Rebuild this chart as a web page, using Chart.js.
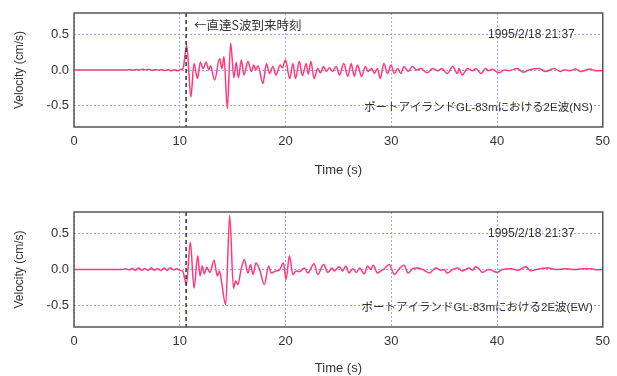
<!DOCTYPE html>
<html>
<head>
<meta charset="utf-8">
<script src="https://cdn.jsdelivr.net/npm/chart.js@4.4.1/dist/chart.umd.min.js"></script>
<style>
  html, body { margin: 0; padding: 0; background: #fff; }
  canvas { display: block; }
</style>
</head>
<body>
<canvas id="nsChart" width="617" height="188"></canvas>
<canvas id="ewChart" width="617" height="188"></canvas>
<script>
// 速度波形 (NS)
const nsTime = [0, 5.0, 5.3, 5.6, 5.9, 6.2, 6.5, 6.8, 7.1, 7.4, 7.7, 8.0, 8.3, 8.6, 8.9, 9.2, 9.5, 9.8, 10.1, 10.3,
  10.66, 11.05, 11.35, 11.67, 11.95, 12.2, 12.5, 12.75, 12.9, 13.3, 13.77, 13.99, 14.18, 14.5, 14.81, 15.12, 15.33, 15.55,
  15.82, 16.07, 16.45, 16.77, 17.0, 17.2, 17.4, 17.86, 18.2, 18.5, 18.8, 19.1, 19.5, 19.7, 20.0, 20.4, 20.7, 20.95,
  21.3, 21.6, 21.95, 22.15, 22.4, 22.7, 23.05, 23.3, 23.6, 23.85, 24.15, 24.45, 24.8, 25.1, 25.5, 25.9, 26.2, 26.5,
  26.8, 27.2, 27.55, 27.8, 28.15, 28.4, 28.7, 28.96, 29.3, 29.65, 29.97, 30.3, 30.6, 30.9, 31.2, 31.6, 32.0, 32.4,
  32.8, 33.4, 33.9, 34.4, 34.8, 35.3, 35.8, 36.25, 36.4, 36.7, 37.2, 37.7, 38.0, 38.5, 38.9, 39.2, 39.55, 40.2,
  40.65, 41.1, 41.9, 42.5, 43.0, 43.96, 44.6, 45.4, 46.0, 46.3, 46.9, 47.4, 47.9, 48.8, 49.3, 50];
const nsVel = [0, 0, 0.008, -0.004, 0.008, 0, 0.012, 0, 0.01, -0.006, 0.008, -0.004, 0.006, -0.008, 0.004, -0.01, 0.004, -0.012, 0.008, 0.02,
  0.35, -0.38, 0.09, -0.12, 0.11, 0.02, 0.11, 0.0, 0.06, -0.14, 0.16, 0.02, 0.19, -0.54, 0.38, -0.11, 0.11, -0.11,
  0.14, -0.07, 0.12, -0.02, 0.07, 0.0, 0.06, -0.19, 0.09, -0.05, 0.05, -0.07, 0.07, 0.03, 0.14, -0.12, 0.09, -0.12,
  0.12, -0.08, 0.09, -0.06, 0.12, -0.12, 0.02, -0.04, 0.05, -0.02, 0.03, -0.02, 0.05, -0.07, 0.09, -0.09, 0.09, -0.09,
  0.07, -0.09, 0.05, -0.02, 0.02, -0.05, 0.02, -0.12, 0.09, -0.05, 0.07, -0.05, 0.02, -0.05, 0.05, -0.02, 0.05, 0.0,
  0.02, -0.04, 0.02, -0.01, 0.02, -0.05, 0.05, -0.05, 0.02, -0.07, 0.02, -0.01, 0.02, -0.05, 0.02, -0.01, 0.01, -0.04,
  0.0, -0.01, 0.02, -0.03, 0.0, 0.02, -0.02, 0.02, -0.02, 0.0, -0.01, 0.015, -0.02, 0.015, -0.01, -0.01];

// 速度波形 (EW)
const ewTime = [0, 4.6, 4.9, 5.2, 5.5, 5.8, 6.1, 6.4, 6.7, 7.0, 7.3, 7.6, 7.9, 8.2, 8.5, 8.8, 9.1, 9.4, 9.7, 10.0, 10.3,
  10.63, 11.0, 11.35, 11.7, 11.92, 12.12, 12.32, 12.55, 12.85, 13.25, 13.55, 13.75, 13.9, 14.34, 14.72, 15.08, 15.28, 15.5,
  15.8, 16.1, 16.45, 16.7, 16.93, 17.2, 17.55, 18.0, 18.4, 18.65, 19.1, 19.4, 19.8, 20.05, 20.37, 20.7, 21.0, 21.3,
  21.8, 22.1, 22.7, 23.05, 23.6, 24.0, 24.4, 24.6, 25.1, 25.4, 25.7, 26.0, 26.35, 26.7, 27.0, 27.45, 27.75, 28.05,
  28.3, 28.7, 29.0, 29.35, 29.8, 30.3, 30.75, 31.2, 31.6, 32.0, 32.5, 33.1, 33.6, 34.2, 34.7, 35.0, 35.3, 35.8,
  36.3, 36.7, 37.35, 37.7, 37.95, 38.3, 38.6, 39.2, 40.0, 40.5, 41.3, 42.0, 42.7, 43.2, 43.7, 44.9, 45.5, 46.5,
  47.4, 48.0, 48.9, 49.5, 50];
const ewVel = [0, 0, 0.01, -0.005, 0.015, -0.01, 0.02, -0.01, 0.015, -0.01, 0.02, -0.01, 0.015, -0.015, 0.02, -0.01, 0.025, -0.005, 0.01, -0.01, -0.03,
  -0.21, 0.38, -0.26, 0.19, -0.09, 0.05, -0.06, 0.03, -0.04, 0.13, -0.09, -0.02, -0.12, -0.49, 0.75, -0.26, -0.16, -0.21,
  0.0, 0.14, -0.05, 0.07, -0.07, 0.09, 0.0, -0.21, 0.05, -0.05, -0.02, -0.01, 0.09, -0.14, 0.19, -0.07, -0.02, -0.03,
  0.02, -0.05, 0.08, -0.07, 0.07, -0.04, 0.02, -0.02, 0.04, -0.02, 0.05, -0.05, 0.01, -0.04, 0.02, -0.06, 0.05, 0.0,
  0.06, -0.05, -0.02, 0.01, 0.07, -0.07, 0.01, 0.06, -0.05, 0.01, 0.02, -0.01, -0.05, 0.02, -0.01, 0.0, -0.05, 0.0,
  0.02, -0.02, 0.02, -0.01, 0.04, 0.01, -0.04, 0.0, -0.04, 0.0, 0.01, -0.01, 0.04, -0.02, 0.0, 0.02, 0.0, 0.01,
  0.0, 0.01, 0.01, -0.005, 0];

const xTicks = [0, 10, 20, 30, 40, 50];
const yTicks = [-0.5, 0, 0.5];
const sArrival = 10.6; // 直達S波到来時刻 (s)
const dateLabel = '1995/2/18 21:37';

const FONT = "'Liberation Sans', Arial, 'Noto Sans CJK JP', sans-serif";
const JP_FONT = "'Noto Sans CJK JP', sans-serif";
const GRID = '#a2a2f6';

// 枠線・到来時刻の破線・注記
const framePlugin = {
  id: 'frame',
  afterDatasetsDraw(chart, args, opts) {
    const {ctx, chartArea: a, scales} = chart;
    const xs = scales.x.getPixelForValue(sArrival);
    ctx.save();
    ctx.strokeStyle = '#333';
    ctx.lineWidth = 1.5;
    ctx.setLineDash([4, 3]);
    ctx.beginPath();
    ctx.moveTo(xs, a.top);
    ctx.lineTo(xs, a.bottom);
    ctx.stroke();
    ctx.setLineDash([]);
    ctx.strokeStyle = '#555';
    ctx.lineWidth = 1.5;
    ctx.strokeRect(a.left, a.top, a.right - a.left, a.bottom - a.top);

    ctx.fillStyle = '#333';
    ctx.textBaseline = 'middle';
    ctx.font = '12px ' + FONT;
    ctx.textAlign = 'right';
    ctx.fillText(dateLabel, a.right - 28, a.top + 22);
    ctx.font = '11.5px ' + FONT;
    ctx.fillText(opts.tag, a.right - 10, a.bottom - 19);
    if (opts.arrow) {
      ctx.textAlign = 'left';
      ctx.font = '12.5px ' + JP_FONT;
      ctx.fillText('←直達S波到来時刻', xs + 8, a.top + 12);
    }
    ctx.restore();
  }
};

function makeChart(id, times, vels, cfg) {
  return new Chart(document.getElementById(id), {
    type: 'line',
    data: {
      datasets: [{
        data: times.map((t, i) => ({x: t, y: vels[i]})),
        borderColor: '#ff3a7c',
        borderWidth: 1.5,
        pointRadius: 0,
        cubicInterpolationMode: 'monotone',
        fill: false
      }]
    },
    options: {
      responsive: false,
      animation: false,
      layout: {padding: {top: cfg.padTop, right: 13, left: 0, bottom: 0}},
      plugins: {
        legend: {display: false},
        tooltip: {enabled: false},
        frame: {tag: cfg.tag, arrow: cfg.arrow}
      },
      scales: {
        x: {
          type: 'linear',
          min: 0,
          max: 50,
          afterBuildTicks: s => { s.ticks = xTicks.map(v => ({value: v})); },
          afterFit: s => { s.height = cfg.axisH; },
          ticks: {color: '#333', font: {size: 13, family: FONT}, padding: 7, maxRotation: 0},
          grid: {color: GRID, lineWidth: 1, drawTicks: false},
          border: {display: false, dash: [2, 2]},
          title: {display: true, text: 'Time (s)', color: '#333', font: {size: 13, family: FONT},
            padding: {top: 0, bottom: cfg.titlePad}}
        },
        y: {
          min: -0.8,
          max: 0.8,
          afterBuildTicks: s => { s.ticks = yTicks.map(v => ({value: v})); },
          afterFit: s => { s.width = 74; },
          ticks: {color: '#333', font: {size: 13, family: FONT}, padding: 5, callback: v => v.toFixed(1)},
          grid: {color: GRID, lineWidth: 1, drawTicks: false},
          border: {display: false, dash: [2, 2]},
          title: {display: true, text: 'Velocity (cm/s)', color: '#333', font: {size: 12, family: FONT},
            padding: {top: 12, bottom: 0}}
        }
      }
    },
    plugins: [framePlugin]
  });
}

makeChart('nsChart', nsTime, nsVel, {padTop: 13, axisH: 61, titlePad: 10, tag: 'ポートアイランドGL-83mにおける2E波(NS)', arrow: true});
makeChart('ewChart', ewTime, ewVel, {padTop: 24, axisH: 49, titlePad: 0, tag: 'ポートアイランドGL-83mにおける2E波(EW)', arrow: false});
</script>
</body>
</html>
